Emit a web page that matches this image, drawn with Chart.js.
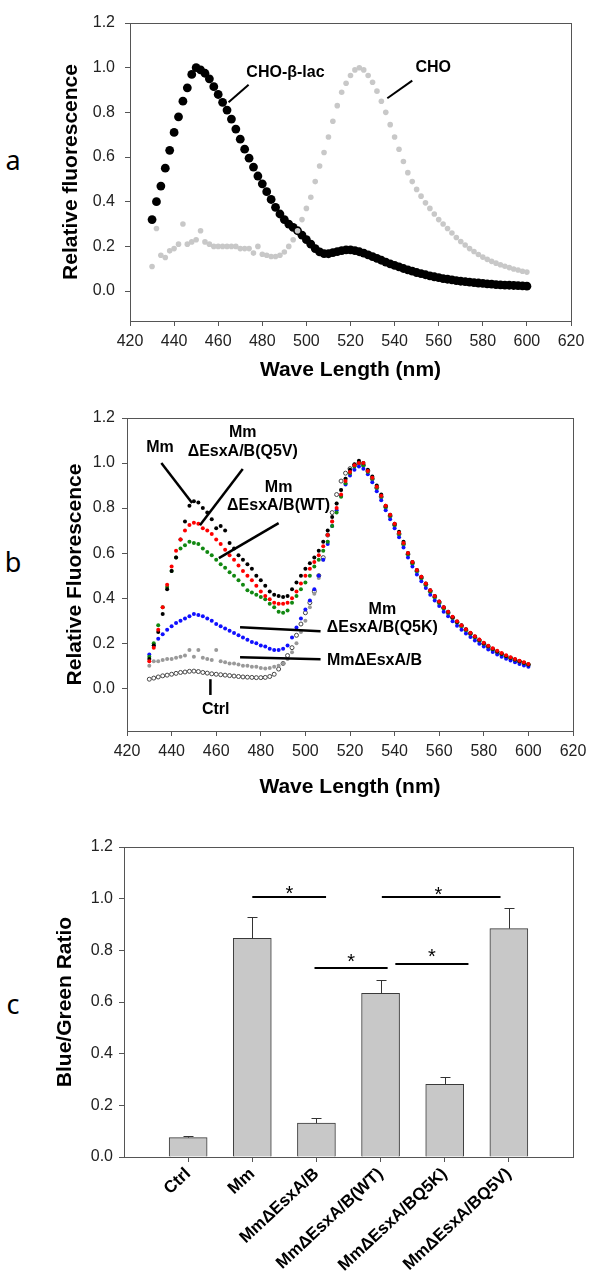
<!DOCTYPE html>
<html>
<head>
<meta charset="utf-8">
<script src="https://cdn.jsdelivr.net/npm/chart.js"></script>
<style>
  body { margin: 0; background: #fff; width: 600px; height: 1286px; position: relative; overflow: hidden; }
  canvas { position: absolute; left: 0; }
  .letter { position: absolute; font-family: "Noto Sans", "Open Sans", sans-serif; font-size: 27px; line-height: 30px; width: 30px; text-align: center; color: #000; }
</style>
</head>
<body>
<div class="letter" style="left:-2px; top:145px">a</div>
<div class="letter" style="left:-2px; top:547px">b</div>
<div class="letter" style="left:-2px; top:989px">c</div>
<canvas id="chartA" width="600" height="390" style="top:0"></canvas>
<canvas id="chartB" width="600" height="405" style="top:395px"></canvas>
<canvas id="chartC" width="600" height="486" style="top:800px"></canvas>
<script>
// wavelengths (nm) of the spectra, every 2 nm
const wavelengths = [
  430, 432, 434, 436, 438, 440, 442, 444, 446, 448,
  450, 452, 454, 456, 458, 460, 462, 464, 466, 468,
  470, 472, 474, 476, 478, 480, 482, 484, 486, 488,
  490, 492, 494, 496, 498, 500, 502, 504, 506, 508,
  510, 512, 514, 516, 518, 520, 522, 524, 526, 528,
  530, 532, 534, 536, 538, 540, 542, 544, 546, 548,
  550, 552, 554, 556, 558, 560, 562, 564, 566, 568,
  570, 572, 574, 576, 578, 580, 582, 584, 586, 588,
  590, 592, 594, 596, 598, 600
];

// panel a
const choLac = [
  .32, .40, .47, .55, .63, .71, .78, .85, .91, .97,
  1.0, .99, .975, .95, .915, .88, .845, .81, .77, .725,
  .68, .635, .595, .555, .515, .48, .445, .41, .375, .345,
  .32, .30, .285, .27, .25, .23, .21, .19, .175, .168,
  .167, .172, .177, .181, .184, .184, .181, .176, .170, .162,
  .154, .146, .138, .130, .122, .115, .108, .101, .095, .089,
  .083, .078, .073, .068, .064, .060, .056, .053, .050, .047,
  .044, .042, .040, .038, .036, .034, .032, .031, .029, .028,
  .027, .026, .025, .024, .023, .022
];
const cho = [
  .11, .28, .16, .15, .18, .19, .21, .30, .21, .22,
  .23, .27, .22, .21, .20, .20, .20, .20, .20, .20,
  .19, .19, .19, .17, .20, .165, .16, .155, .155, .16,
  .175, .20, .23, .27, .32, .37, .42, .49, .56, .62,
  .69, .76, .83, .89, .93, .965, .99, 1.0, .99, .965,
  .935, .895, .85, .80, .745, .69, .635, .58, .53, .49,
  .455, .425, .395, .37, .345, .32, .30, .28, .26, .24,
  .222, .206, .19, .177, .164, .152, .142, .133, .125, .118,
  .111, .105, .099, .094, .089, .085
];

// panel b
const mm = [
  .13, .19, .25, .33, .44, .52, .58, .66, .74, .81,
  .83, .825, .80, .78, .75, .71, .72, .70, .645, .62,
  .59, .57, .55, .53, .50, .48, .455, .43, .415, .41,
  .405, .41, .44, .47, .50, .53, .555, .58, .61, .65,
  .70, .76, .82, .88, .93, .97, .995, 1.01, 1.0, .97,
  .94, .90, .86, .81, .77, .73, .695, .65, .60, .56,
  .525, .495, .465, .435, .41, .385, .36, .34, .315, .295,
  .28, .262, .245, .23, .215, .20, .187, .175, .163, .153,
  .143, .135, .127, .12, .113, .105
];
const q5v = [
  .12, .18, .26, .36, .46, .54, .61, .66, .70, .725,
  .735, .73, .71, .70, .685, .66, .64, .615, .59, .57,
  .545, .52, .50, .48, .455, .43, .41, .395, .38, .375,
  .375, .38, .40, .43, .465, .50, .53, .56, .59, .63,
  .68, .74, .80, .86, .92, .96, .99, 1.0, 1.0, .965,
  .935, .895, .855, .81, .77, .73, .69, .645, .60, .56,
  .525, .495, .465, .435, .41, .385, .36, .34, .317, .297,
  .28, .262, .246, .231, .216, .202, .189, .177, .166, .156,
  .146, .138, .13, .122, .115, .108
];
const wt = [
  .14, .20, .28, .36, .45, .52, .58, .62, .635, .65,
  .645, .64, .62, .605, .59, .57, .55, .535, .515, .50,
  .48, .46, .435, .425, .415, .405, .395, .375, .36, .34,
  .335, .345, .38, .41, .44, .47, .50, .54, .57, .61,
  .65, .72, .78, .85, .91, .955, .985, 1.0, .99, .96,
  .93, .89, .85, .805, .765, .725, .685, .64, .595, .555,
  .52, .49, .46, .43, .405, .38, .355, .335, .313, .293,
  .276, .258, .242, .227, .212, .198, .185, .173, .162, .152,
  .142, .134, .126, .119, .112, .105
];
const q5k = [
  .15, .19, .22, .24, .26, .275, .29, .30, .31, .32,
  .33, .325, .32, .31, .30, .285, .275, .265, .255, .245,
  .235, .225, .215, .205, .20, .19, .185, .175, .17, .17,
  .175, .19, .225, .27, .31, .35, .39, .44, .50, .57,
  .64, .72, .79, .855, .905, .945, .97, .985, .975, .95,
  .915, .875, .835, .79, .75, .71, .67, .625, .58, .54,
  .505, .475, .445, .415, .39, .365, .34, .32, .297, .277,
  .26, .243, .227, .212, .198, .185, .172, .161, .15, .14,
  .131, .123, .115, .108, .101, .095
];
const esxab = [
  .10, .12, .12, .125, .13, .13, .135, .14, .145, .17,
  .14, .17, .135, .13, .125, .17, .12, .115, .11, .11,
  .105, .10, .10, .095, .095, .09, .088, .09, .095, .10,
  .11, .13, .16, .20, .25, .30, .36, .42, .49, .57,
  .65, .74, .82, .88, .93, .965, .99, 1.0, .99, .965,
  .93, .89, .85, .805, .765, .725, .685, .64, .595, .555,
  .52, .49, .46, .43, .405, .38, .356, .335, .313, .293,
  .275, .258, .242, .226, .211, .197, .184, .172, .161, .151,
  .141, .133, .125, .118, .111, .104
];
const ctrl = [
  .04, .045, .05, .055, .058, .062, .066, .07, .072, .075,
  .076, .074, .07, .067, .064, .062, .06, .058, .056, .054,
  .052, .05, .049, .048, .047, .047, .048, .052, .062, .085,
  .11, .145, .18, .235, .285, .335, .38, .43, .50, .58,
  .68, .78, .86, .92, .955, .975, .99, 1.0, .99, .965,
  .93, .89, .85, .805, .765, .725, .685, .64, .595, .555,
  .52, .49, .46, .43, .405, .38, .356, .335, .313, .293,
  .275, .258, .242, .226, .211, .197, .184, .172, .161, .151,
  .141, .133, .125, .118, .111, .104
];

// panel c
const categories = ['Ctrl', 'Mm', 'MmΔEsxA/B', 'MmΔEsxA/B(WT)', 'MmΔEsxA/BQ5K)', 'MmΔEsxA/BQ5V)'];
const barPositions = [1, 2, 3, 4, 5, 6];
const ratios = [0.075, 0.846, 0.131, 0.634, 0.281, 0.884];
const ratioErrors = [0.006, 0.084, 0.021, 0.052, 0.028, 0.081];
// significance bars: [from, to, height], stars: [x, y]
const sigBars = [[2.0, 3.15, 1.006], [4.02, 5.87, 1.006], [2.97, 4.11, 0.731], [4.23, 5.37, 0.749]];
const sigStars = [[2.58, 1.04], [4.9, 1.036], [3.54, 0.778], [4.8, 0.795]];

// tick labels
const waveTicks = [420, 440, 460, 480, 500, 520, 540, 560, 580, 600, 620];
const valueTicks = [0, 0.2, 0.4, 0.6, 0.8, 1.0, 1.2];

// callouts, in data units
const calloutsA = [['CHO-β-lac', 490.5, 0.979], ['CHO', 557.5, 1.0]];
const leadersA = [[473.8, 0.924, 464.7, 0.845], [548, 0.942, 536.7, 0.863]];
const calloutsB = [
  ['Mm', 434.8, 1.067], ['Mm', 471.9, 1.133], ['ΔEsxA/B(Q5V)', 471.9, 1.049],
  ['Mm', 488, 0.893], ['ΔEsxA/B(WT)', 488, 0.813],
  ['Mm', 534.5, 0.347], ['ΔEsxA/B(Q5K)', 534.5, 0.267],
  ['MmΔEsxA/B', 531, 0.124], ['Ctrl', 459.8, -0.093]
];
const leadersB = [
  [435.4, 1.0, 449.2, 0.823], [471.9, 0.973, 452.7, 0.724], [488, 0.733, 461.2, 0.578],
  [470.7, 0.271, 506.8, 0.253], [470.7, 0.138, 506.8, 0.129], [457.4, 0.04, 457.4, -0.03]
];

Chart.defaults.font.family = '"Liberation Sans", Arial, sans-serif';
Chart.defaults.color = '#000';

const pts = arr => wavelengths.map((w, i) => ({ x: w, y: arr[i] }));

// box around the plot area
const frame = {
  id: 'frame',
  afterDraw(chart) {
    const { ctx, chartArea: a } = chart;
    ctx.save();
    ctx.strokeStyle = '#555';
    ctx.lineWidth = 1;
    ctx.strokeRect(Math.round(a.left) + 0.5, Math.round(a.top) + 0.5,
      Math.round(a.right - a.left), Math.round(a.bottom - a.top));
    ctx.restore();
  }
};

// leader lines and labels
const notes = {
  id: 'notes',
  afterDatasetsDraw(chart, args, opts) {
    const { ctx, scales: { x, y } } = chart;
    ctx.save();
    ctx.strokeStyle = '#000';
    ctx.lineWidth = opts.lineWidth || 2;
    (opts.lines || []).forEach(([x1, y1, x2, y2]) => {
      ctx.beginPath();
      ctx.moveTo(x.getPixelForValue(x1), y.getPixelForValue(y1));
      ctx.lineTo(x.getPixelForValue(x2), y.getPixelForValue(y2));
      ctx.stroke();
    });
    ctx.fillStyle = '#000';
    ctx.font = 'bold 16px "Liberation Sans", Arial, sans-serif';
    ctx.textAlign = 'center';
    ctx.textBaseline = 'middle';
    (opts.labels || []).forEach(([t, lx, ly]) => ctx.fillText(t, x.getPixelForValue(lx), y.getPixelForValue(ly)));
    ctx.restore();
  }
};

// error caps and significance marks for the bar panel
const barMarks = {
  id: 'barMarks',
  afterDatasetsDraw(chart) {
    const { ctx, scales: { x, y } } = chart;
    ctx.save();
    ctx.strokeStyle = '#333';
    ctx.lineWidth = 1;
    barPositions.forEach((p, i) => {
      const px = Math.round(x.getPixelForValue(p)) + 0.5;
      const y0 = y.getPixelForValue(ratios[i]);
      const y1 = Math.round(y.getPixelForValue(ratios[i] + ratioErrors[i])) + 0.5;
      ctx.beginPath();
      ctx.moveTo(px, y0);
      ctx.lineTo(px, y1);
      ctx.moveTo(px - 5, y1);
      ctx.lineTo(px + 5, y1);
      ctx.stroke();
    });
    ctx.strokeStyle = '#000';
    ctx.lineWidth = 2;
    sigBars.forEach(([a, b, h]) => {
      const py = Math.round(y.getPixelForValue(h));
      ctx.beginPath();
      ctx.moveTo(x.getPixelForValue(a), py);
      ctx.lineTo(x.getPixelForValue(b), py);
      ctx.stroke();
    });
    ctx.fillStyle = '#000';
    ctx.font = '20px "Liberation Sans", Arial, sans-serif';
    ctx.textAlign = 'center';
    ctx.textBaseline = 'alphabetic';
    sigStars.forEach(([sx, sy]) => ctx.fillText('*', x.getPixelForValue(sx), y.getPixelForValue(sy) + 11.5));
    ctx.restore();
  }
};

function yAxis(min, max, width, pad, title) {
  return {
    type: 'linear', position: 'left', min, max,
    afterBuildTicks: s => { s.ticks = valueTicks.map(v => ({ value: v })); },
    afterFit: s => { s.width = width; },
    border: { display: false },
    grid: { drawOnChartArea: false, tickLength: 5, tickColor: '#555' },
    ticks: { padding: pad, color: '#222', font: { size: 16 }, callback: v => v.toFixed(1) },
    title: { display: true, text: title, color: '#000', font: { size: 21, weight: 'bold' }, padding: 0 }
  };
}

function waveAxis(height) {
  return {
    type: 'linear', position: 'bottom', min: 420, max: 620,
    afterBuildTicks: s => { s.ticks = waveTicks.map(v => ({ value: v })); },
    afterFit: s => { s.height = height; },
    border: { display: false },
    grid: { drawOnChartArea: false, tickLength: 5, tickColor: '#555' },
    ticks: { padding: 6, color: '#222', font: { size: 16 }, maxRotation: 0 },
    title: { display: true, text: 'Wave Length (nm)', color: '#000', font: { size: 21, weight: 'bold' }, padding: 0 }
  };
}

const common = {
  responsive: false,
  animation: false,
  events: []
};

new Chart(document.getElementById('chartA'), {
  type: 'scatter',
  data: {
    datasets: [
      { data: pts(cho), pointRadius: 2.8, pointBackgroundColor: '#c8c8c8', pointBorderWidth: 0 },
      { data: pts(choLac), pointRadius: 4.4, pointBackgroundColor: '#000', pointBorderWidth: 0 }
    ]
  },
  options: {
    ...common,
    layout: { padding: { left: 58.4, right: 29, top: 23, bottom: 7.4 } },
    scales: { x: waveAxis(61.6), y: yAxis(-0.134, 1.2, 71.6, 10, 'Relative fluorescence') },
    plugins: {
      legend: { display: false }, tooltip: { enabled: false },
      notes: { lines: leadersA, labels: calloutsA, lineWidth: 2 }
    }
  },
  plugins: [frame, notes]
});

const dotB = (arr, color) => ({ data: pts(arr), pointRadius: 2, pointBackgroundColor: color, pointBorderWidth: 0 });

new Chart(document.getElementById('chartB'), {
  type: 'scatter',
  data: {
    datasets: [
      dotB(q5v, '#ff0000'),
      dotB(mm, '#000000'),
      dotB(wt, '#118811'),
      dotB(q5k, '#1010ff'),
      dotB(esxab, '#999999'),
      { data: pts(ctrl), pointRadius: 2, pointBackgroundColor: '#ffffff', pointBorderColor: '#444', pointBorderWidth: 1 }
    ]
  },
  options: {
    ...common,
    layout: { padding: { left: 62.4, right: 27, top: 23, bottom: 0.4 } },
    scales: { x: waveAxis(68.6), y: yAxis(-0.19, 1.2, 64.6, 7, 'Relative Fluorescence') },
    plugins: {
      legend: { display: false }, tooltip: { enabled: false },
      notes: { lines: leadersB, labels: calloutsB, lineWidth: 2.5 }
    }
  },
  plugins: [frame, notes]
});

new Chart(document.getElementById('chartC'), {
  type: 'bar',
  data: {
    datasets: [{
      data: barPositions.map((p, i) => ({ x: p, y: ratios[i] })),
      backgroundColor: '#c8c8c8',
      borderColor: '#3a3a3a',
      borderWidth: 1,
      barThickness: 38
    }]
  },
  options: {
    ...common,
    layout: { padding: { left: 52.4, right: 27, top: 47, bottom: 0 } },
    scales: {
      x: {
        type: 'linear', position: 'bottom', min: 0, max: 7, offset: false,
        afterBuildTicks: s => { s.ticks = barPositions.map(v => ({ value: v })); },
        afterFit: s => { s.height = 129; },
        border: { display: false },
        grid: { offset: false, drawOnChartArea: false, tickLength: 5, tickColor: '#555' },
        ticks: {
          padding: 2, color: '#000', font: { size: 17, weight: 'bold' },
          minRotation: 43, maxRotation: 43, autoSkip: false,
          callback: (v, i) => categories[i]
        }
      },
      y: { ...yAxis(0, 1.2, 71.6, 6, 'Blue/Green Ratio') }
    },
    plugins: { legend: { display: false }, tooltip: { enabled: false } }
  },
  plugins: [frame, barMarks]
});
</script>
</body>
</html>
